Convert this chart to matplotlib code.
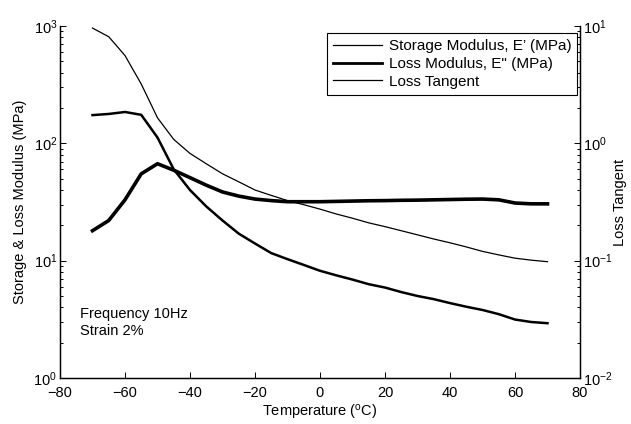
import matplotlib
matplotlib.use("Agg")
import matplotlib.pyplot as plt
from matplotlib.lines import Line2D
from matplotlib.ticker import LogLocator, NullFormatter

plt.rcParams['font.family'] = ['Liberation Sans', 'DejaVu Sans']
plt.rcParams['mathtext.fontset'] = 'custom'
plt.rcParams['mathtext.rm'] = 'Liberation Sans'
plt.rcParams['mathtext.it'] = 'Liberation Sans:italic'
plt.rcParams['mathtext.bf'] = 'Liberation Sans:bold'
plt.rcParams['font.size'] = 10.5

temperature = [-70, -65, -60, -55, -50, -45, -40, -35, -30, -25, -20, -15, -10, -5,
               0, 5, 10, 15, 20, 25, 30, 35, 40, 45, 50, 55, 60, 65, 70]
storage_modulus = [960, 810, 560, 320, 165, 108, 82, 67, 55, 47, 40, 36, 32.5, 30,
                   27.5, 25, 23, 21, 19.5, 18, 16.6, 15.3, 14.2, 13.1, 12, 11.2, 10.5, 10.1, 9.8]
loss_modulus = [174, 178, 185, 175, 112, 60, 40, 29, 22, 17, 14, 11.6, 10.3, 9.2,
                8.2, 7.5, 6.9, 6.3, 5.9, 5.4, 5.0, 4.7, 4.35, 4.05, 3.8, 3.5, 3.15, 3.0, 2.93]
loss_tangent = [0.18, 0.22, 0.33, 0.55, 0.67, 0.59, 0.51, 0.44, 0.385, 0.355, 0.335, 0.325,
                0.318, 0.318, 0.318, 0.32, 0.322, 0.324, 0.325, 0.327, 0.328, 0.33, 0.332,
                0.334, 0.335, 0.33, 0.31, 0.305, 0.305]
legend_labels = ["Storage Modulus, E\u2019 (MPa)", "Loss Modulus, E\" (MPa)", "Loss Tangent"]
x_ticks = [-80, -60, -40, -20, 0, 20, 40, 60, 80]

fig = plt.figure(figsize=(6.31, 4.24), dpi=100)
ax = fig.add_axes([60/631, 1-378/424, 520/631, 352/424])
ax2 = ax.twinx()

ax.plot(temperature, storage_modulus, color='black', lw=0.9)
ax.plot(temperature, loss_modulus, color='black', lw=1.8)
ax2.plot(temperature, loss_tangent, color='black', lw=2.6)

ax.set_yscale('log')
ax2.set_yscale('log')
ax.set_xlim(-80, 80)
ax.set_ylim(1, 1000)
ax2.set_ylim(0.01, 10)
ax.set_xticks(x_ticks)
ax.set_xticklabels(['\u2212' + str(-t) if t < 0 else str(t) for t in x_ticks])

for a in (ax, ax2):
    a.spines['top'].set_visible(False)
    for s in a.spines.values():
        s.set_linewidth(0.9)
    a.tick_params(which='both', direction='in', width=0.7, top=False)
    a.tick_params(which='major', length=4, pad=2)
    a.tick_params(which='minor', length=2.5)
    a.yaxis.set_minor_locator(LogLocator(base=10, subs=range(2, 10)))
    a.yaxis.set_minor_formatter(NullFormatter())
ax.tick_params(axis='y', which='both', right=False)
ax2.tick_params(axis='y', which='both', left=False)
ax.tick_params(axis='x', which='both', top=False, pad=6)

ax.set_xlabel(r'Temperature ($^{\rm o}$C)', labelpad=2)
ax.set_ylabel('Storage & Loss Modulus (MPa)', labelpad=5)
ax2.set_ylabel('Loss Tangent', fontsize=10.5)
ax2.yaxis.set_label_coords(1.077, 0.5)
ax2.yaxis.label.set_ha('center')
ax2.yaxis.label.set_va('center')

ax.text(-74, 2.2, 'Frequency 10Hz\nStrain 2%', ha='left', va='bottom', linespacing=1.3)

handles = [Line2D([], [], color='black', lw=0.9),
           Line2D([], [], color='black', lw=2.0),
           Line2D([], [], color='black', lw=0.9)]
leg = ax2.legend(handles, legend_labels, loc='upper right', bbox_to_anchor=(0.995, 0.98),
                 frameon=True, fancybox=False, edgecolor='black', framealpha=1,
                 borderpad=0.4, labelspacing=0.25, handlelength=3.2, handletextpad=0.45,
                 borderaxespad=0, fontsize=11)
leg.get_frame().set_linewidth(0.8)

fig.savefig('out.png', dpi=100)
